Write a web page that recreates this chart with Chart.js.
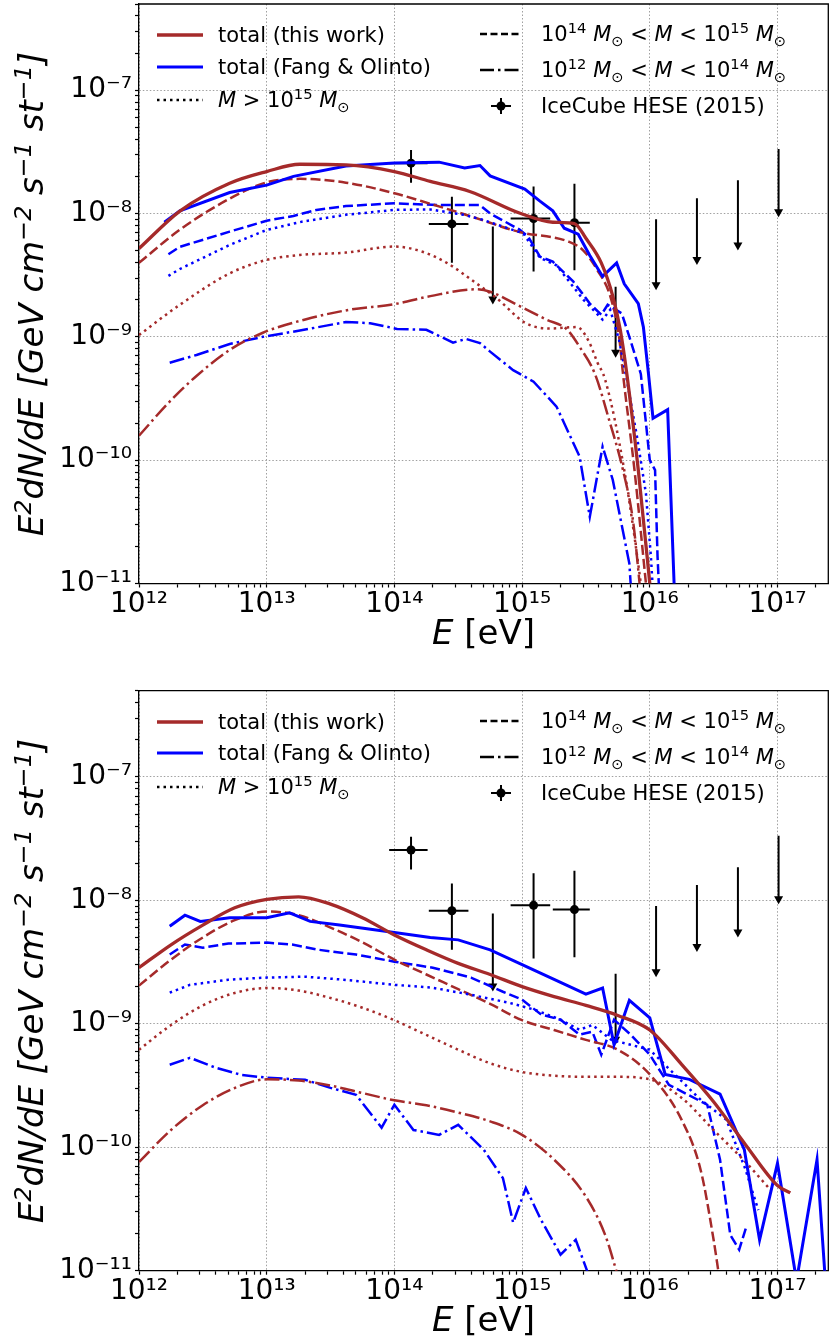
<!DOCTYPE html>
<html>
<head>
<meta charset="utf-8">
<script src="https://cdn.jsdelivr.net/npm/chart.js@4.4.1/dist/chart.umd.min.js"></script>
<style>
  body { margin:0; background:#fff; }
  #wrap { position:relative; width:829px; height:1342px; overflow:hidden; font-family:'DejaVu Sans', sans-serif; }
  .cv { position:absolute; left:0; }
  .lg { position:absolute; font-size:21px; line-height:24px; white-space:nowrap; color:#000; }
  .lg sup, .lg sub { font-size:0.7em; line-height:0; }
  .xl { position:absolute; left:139px; width:689px; text-align:center; font-size:34px; line-height:40px; color:#000; }
  .yl { position:absolute; width:580px; height:40px; line-height:40px; text-align:center; font-size:34px; font-style:italic; color:#000; transform:rotate(-90deg); transform-origin:50% 50%; white-space:nowrap; }
  .yl sup { font-size:0.7em; line-height:0; }
  svg.sm { position:absolute; overflow:visible; }
</style>
</head>
<body>
<div id="wrap">
  <canvas id="c1" class="cv" width="829" height="660" style="top:0;width:829px;height:660px"></canvas>
  <canvas id="c2" class="cv" width="829" height="682" style="top:660px;width:829px;height:682px"></canvas>
</div>
<script>
// ---------------- DATA (E in eV, E^2 dN/dE in GeV cm^-2 s^-1 sr^-1) ----------------
// IceCube HESE (2015) points
const heseE    = [1.35e14, 2.82e14, 1.23e15, 2.57e15];
const heseElo  = [9.1e13, 1.86e14, 8.13e14, 1.74e15];
const heseEhi  = [1.82e14, 3.8e14, 1.66e15, 3.39e15];
const heseF    = [2.56e-8, 8.24e-9, 9.12e-9, 8.43e-9];
const heseFlo  = [1.78e-8, 3.98e-9, 3.39e-9, 3.47e-9];
const heseFhi  = [3.28e-8, 1.37e-8, 1.66e-8, 1.74e-8];
// IceCube HESE (2015) upper limits
const ulE      = [5.9e14, 5.4e15, 1.12e16, 2.34e16, 4.9e16, 1.02e17];
const ulF      = [7.85e-9, 2.55e-9, 9.0e-9, 1.33e-8, 1.86e-8, 3.34e-8];
const ulTip    = [1.86e-9, 6.9e-10, 2.43e-9, 3.9e-9, 5.1e-9, 9.5e-9];

// ---- Top panel ----
const twTotalE_A = [1e12, 2.09e12, 5.13e12, 1e13, 1.82e13, 4.17e13, 1e14, 1.91e14, 3.89e14, 9.77e14, 1.74e15, 2.57e15, 3.16e15, 4.17e15, 5.13e15, 5.89e15, 6.61e15, 8.13e15, 1e16, 1.12e16];
const twTotalF_A = [5.2e-9, 1.047e-8, 1.76e-8, 2.19e-8, 2.51e-8, 2.48e-8, 2.19e-8, 1.82e-8, 1.51e-8, 1.0e-8, 8.5e-9, 8.3e-9, 6.3e-9, 3.98e-9, 2.14e-9, 1.12e-9, 5.0e-10, 8.3e-11, 1.0e-11, 3e-12];
const twDashE_A = [1e12, 2.09e12, 5.13e12, 1e13, 1.82e13, 4.17e13, 1e14, 1.91e14, 3.89e14, 9.55e14, 2.34e15, 3.02e15, 3.89e15, 4.9e15, 5.75e15, 6.17e15, 7.59e15, 9.33e15, 1.05e16];
const twDashF_A = [3.98e-9, 7.4e-9, 1.32e-8, 1.79e-8, 1.91e-8, 1.78e-8, 1.46e-8, 1.2e-8, 9.55e-9, 7.08e-9, 5.89e-9, 5.01e-9, 3.47e-9, 2.14e-9, 1.0e-9, 5.0e-10, 8.3e-11, 1.0e-11, 3e-12];
const twDotE_A = [1e12, 2.09e12, 5.13e12, 1e13, 1.82e13, 4.17e13, 1e14, 1.66e14, 2.57e14, 4.37e14, 6.31e14, 1.07e15, 1.66e15, 2.69e15, 3.31e15, 3.89e15, 4.47e15, 6.31e15, 8.51e15, 9.8e15];
const twDotF_A = [1.035e-9, 1.82e-9, 3.27e-9, 4.21e-9, 4.61e-9, 4.82e-9, 5.4e-9, 4.9e-9, 3.98e-9, 2.72e-9, 2.06e-9, 1.29e-9, 1.17e-9, 1.2e-9, 9.3e-10, 6.2e-10, 4.5e-10, 8.3e-11, 1.0e-11, 3e-12];
const twDDE_A = [1e12, 1.74e12, 2.82e12, 5.13e12, 9.33e12, 2.04e13, 4.47e13, 1e14, 1.91e14, 4.37e14, 5.62e14, 9.12e14, 1.55e15, 2.24e15, 2.82e15, 3.72e15, 4.79e15, 6.17e15, 7.41e15, 8.32e15, 9.3e15];
const twDDF_A = [1.58e-10, 2.99e-10, 4.82e-10, 7.83e-10, 1.08e-9, 1.39e-9, 1.66e-9, 1.84e-9, 2.14e-9, 2.43e-9, 2.32e-9, 1.82e-9, 1.38e-9, 1.15e-9, 8.3e-10, 5.0e-10, 2.14e-10, 8.3e-11, 3.16e-11, 1.0e-11, 3e-12];

const foTotalE_A = [1.58e12, 2.09e12, 5.13e12, 1e13, 1.62e13, 4.17e13, 1e14, 2.24e14, 3.55e14, 4.68e14, 5.62e14, 1.05e15, 1.38e15, 1.74e15, 2.14e15, 2.75e15, 3.39e15, 4.27e15, 5.5e15, 6.31e15, 8.13e15, 8.91e15, 9.77e15, 1.06e16, 1.38e16, 1.55e16, 1.62e16];
const foTotalF_A = [8.5e-9, 1.05e-8, 1.48e-8, 1.70e-8, 2.0e-8, 2.43e-8, 2.57e-8, 2.61e-8, 2.34e-8, 2.45e-8, 2.02e-8, 1.58e-8, 1.26e-8, 1.05e-8, 7.6e-9, 6.8e-9, 4.57e-9, 3.09e-9, 3.98e-9, 2.69e-9, 1.86e-9, 1.2e-9, 5.0e-10, 2.19e-10, 2.57e-10, 1.0e-11, 3e-12];
const foDashE_A = [1.70e12, 2.09e12, 5.13e12, 1e13, 1.62e13, 2.45e13, 4.17e13, 1e14, 2.24e14, 4.68e14, 5.62e14, 9.55e14, 1.12e15, 1.38e15, 1.74e15, 2.51e15, 3.02e15, 3.39e15, 4.17e15, 4.68e15, 6.03e15, 6.92e15, 8.51e15, 1e16, 1.10e16, 1.15e16, 1.20e16];
const foDashF_A = [4.68e-9, 5.37e-9, 7.13e-9, 8.75e-9, 9.55e-9, 1.07e-8, 1.15e-8, 1.21e-8, 1.17e-8, 1.17e-8, 1.0e-8, 7.41e-9, 6.46e-9, 4.47e-9, 4.07e-9, 2.82e-9, 2.19e-9, 1.86e-9, 1.51e-9, 1.82e-9, 1.55e-9, 1.0e-9, 5.0e-10, 1.0e-10, 8.3e-11, 1.66e-11, 6.3e-12];
const foDotE_A = [1.70e12, 2.09e12, 5.13e12, 1e13, 1.91e13, 4.17e13, 1e14, 1.91e14, 3.47e14, 4.9e14, 7.08e14, 1.02e15, 1.38e15, 1.86e15, 3.02e15, 4.27e15, 4.9e15, 5.75e15, 6.61e15, 7.94e15, 9.33e15, 1.02e16, 1.05e16, 1.07e16];
const foDotF_A = [3.12e-9, 3.55e-9, 5.56e-9, 7.36e-9, 8.61e-9, 9.77e-9, 1.07e-8, 1.08e-8, 9.77e-9, 8.91e-9, 7.83e-9, 6.92e-9, 4.37e-9, 3.8e-9, 2.0e-9, 1.38e-9, 1.66e-9, 9.44e-10, 4.47e-10, 1.55e-10, 5.37e-11, 1.66e-11, 1.0e-11, 6e-12];
const foDDE_A = [1.74e12, 2.82e12, 5.13e12, 9.33e12, 1.91e13, 4.17e13, 6.46e13, 1.05e14, 1.78e14, 2.88e14, 3.63e14, 4.68e14, 5.62e14, 8.51e14, 1.23e15, 1.86e15, 2.82e15, 3.39e15, 4.27e15, 5.13e15, 6.92e15, 7.08e15, 7.2e15];
const foDDF_A = [6.17e-10, 7.13e-10, 8.75e-10, 1.0e-9, 1.135e-9, 1.32e-9, 1.29e-9, 1.16e-9, 1.14e-9, 8.97e-10, 9.62e-10, 8.91e-10, 7.59e-10, 5.37e-10, 4.33e-10, 2.72e-10, 1.07e-10, 3.47e-11, 1.29e-10, 6.92e-11, 1.45e-11, 1.0e-11, 6e-12];

// ---- Bottom panel ----
const gridE_B = [1e12, 1.78e12, 3.16e12, 5.62e12, 1e13, 1.78e13, 3.16e13, 5.62e13, 1e14, 1.78e14, 3.16e14, 5.62e14, 1e15, 1.78e15, 3.16e15, 5.62e15, 1e16, 1.78e16, 3.16e16, 5.62e16, 1e17, 1.26e17];
const twTotalF_B = [2.85e-9, 4.37e-9, 6.31e-9, 8.71e-9, 1.02e-8, 1.07e-8, 9.33e-9, 7.24e-9, 5.25e-9, 3.98e-9, 3.09e-9, 2.51e-9, 2.0e-9, 1.66e-9, 1.41e-9, 1.17e-9, 8.91e-10, 4.68e-10, 2.34e-10, 1.05e-10, 4.9e-11, 4.27e-11];
const twDashE_B = [1e12, 1.78e12, 3.16e12, 5.62e12, 1e13, 1.78e13, 3.16e13, 5.62e13, 1e14, 1.78e14, 3.16e14, 5.62e14, 1e15, 1.78e15, 3.16e15, 5.62e15, 1e16, 1.78e16, 2.51e16, 3.16e16, 3.55e16];
const twDashF_B = [2.04e-9, 3.31e-9, 5.01e-9, 6.92e-9, 8.13e-9, 7.59e-9, 6.03e-9, 4.57e-9, 3.31e-9, 2.51e-9, 1.91e-9, 1.45e-9, 1.07e-9, 8.91e-10, 7.41e-10, 6.17e-10, 3.89e-10, 1.66e-10, 6.46e-11, 1.78e-11, 8e-12];
const twDotE_B = [1e12, 1.78e12, 3.16e12, 5.62e12, 1e13, 1.78e13, 3.16e13, 5.62e13, 1e14, 1.78e14, 3.16e14, 5.62e14, 1e15, 1.78e15, 3.16e15, 5.62e15, 1e16, 1.78e16, 3.16e16, 5.62e16, 8.9e16];
const twDotF_B = [6.17e-10, 9.77e-10, 1.41e-9, 1.78e-9, 1.95e-9, 1.86e-9, 1.62e-9, 1.35e-9, 1.07e-9, 8.13e-10, 6.17e-10, 4.79e-10, 4.07e-10, 3.8e-10, 3.72e-10, 3.72e-10, 3.55e-10, 2.51e-10, 1.38e-10, 7.59e-11, 4.47e-11];
const twDDE_B = [1e12, 1.78e12, 3.16e12, 5.62e12, 1e13, 1.78e13, 3.16e13, 5.62e13, 1e14, 1.78e14, 3.16e14, 5.62e14, 1e15, 1.78e15, 3.16e15, 4.47e15, 5.62e15];
const twDDF_B = [7.59e-11, 1.38e-10, 2.19e-10, 3.02e-10, 3.55e-10, 3.47e-10, 3.16e-10, 2.75e-10, 2.4e-10, 2.19e-10, 1.91e-10, 1.62e-10, 1.26e-10, 7.94e-11, 3.98e-11, 1.95e-11, 9.1e-12];

const foTotalE_B = [1.74e12, 2.29e12, 3.02e12, 5.13e12, 1e13, 1.51e13, 2.19e13, 3.72e13, 1e14, 1.91e14, 3.16e14, 5.62e14, 1e15, 1.78e15, 3.16e15, 4.27e15, 5.25e15, 6.92e15, 1e16, 1.32e16, 2.04e16, 3.55e16, 5.5e16, 7.24e16, 1e17, 1.41e17, 2.04e17, 2.4e17];
const foTotalF_B = [6.17e-9, 7.59e-9, 6.76e-9, 7.24e-9, 7.24e-9, 7.94e-9, 6.76e-9, 6.31e-9, 5.5e-9, 5.01e-9, 4.79e-9, 3.98e-9, 3.02e-9, 2.29e-9, 1.74e-9, 1.95e-9, 6.76e-10, 1.55e-9, 1.12e-9, 3.89e-10, 3.55e-10, 2.69e-10, 9.55e-11, 1.78e-11, 7.41e-11, 8.3e-12, 7.94e-11, 6.9e-12];
const foDashE_B = [1.74e12, 2.29e12, 3.16e12, 5.01e12, 1e13, 1.58e13, 2.51e13, 5.01e13, 1e14, 2.0e14, 3.98e14, 7.08e14, 1e15, 1.41e15, 2.0e15, 2.82e15, 3.55e15, 4.17e15, 5.25e15, 7.08e15, 1e16, 1.41e16, 2.0e16, 2.82e16, 3.55e16, 4.27e16, 5.01e16, 5.75e16];
const foDashF_B = [3.64e-9, 4.39e-9, 4.14e-9, 4.47e-9, 4.55e-9, 4.39e-9, 3.99e-9, 3.64e-9, 3.19e-9, 2.85e-9, 2.37e-9, 1.82e-9, 1.57e-9, 1.19e-9, 1.08e-9, 8.17e-10, 8.63e-10, 5.62e-10, 1.08e-9, 8.17e-10, 5.62e-10, 3.21e-10, 2.66e-10, 2.21e-10, 7.94e-11, 1.95e-11, 1.48e-11, 2.34e-11];
const foDotE_B = [1.74e12, 2.51e12, 5.01e12, 1e13, 2.0e13, 3.98e13, 1e14, 2.0e14, 3.98e14, 7.94e14, 1.26e15, 2.0e15, 2.82e15, 3.55e15, 5.01e15, 7.08e15, 1e16, 1.58e16, 2.51e16, 3.98e16, 5.62e16, 7.08e16];
const foDotF_B = [1.79e-9, 2.07e-9, 2.28e-9, 2.37e-9, 2.41e-9, 2.28e-9, 2.07e-9, 1.96e-9, 1.72e-9, 1.48e-9, 1.30e-9, 1.08e-9, 8.95e-10, 9.8e-10, 7.41e-10, 6.76e-10, 6.17e-10, 3.86e-10, 2.42e-10, 1.67e-10, 6.6e-11, 3.09e-11];
const foDDE_B = [1.74e12, 2.51e12, 3.98e12, 6.31e12, 1e13, 2.0e13, 3.16e13, 5.01e13, 7.94e13, 1e14, 1.41e14, 2.24e14, 3.16e14, 5.01e14, 7.08e14, 8.51e14, 1.07e15, 1.41e15, 2.0e15, 2.63e15, 3.31e15];
const foDDF_B = [4.66e-10, 5.31e-10, 4.41e-10, 3.86e-10, 3.66e-10, 3.52e-10, 3.03e-10, 2.66e-10, 1.44e-10, 2.21e-10, 1.38e-10, 1.26e-10, 1.52e-10, 9.55e-11, 5.62e-11, 2.45e-11, 4.68e-11, 2.57e-11, 1.35e-11, 1.78e-11, 9.3e-12];

// axis ticks
const xDecades = [12, 13, 14, 15, 16, 17];
const yDecades = [-11, -10, -9, -8, -7];

// ---------------- STYLE ----------------
const BROWN = '#a52a2a', BLUE = '#0000ff';
const DASH = [10, 4], DOT = [2.5, 4], DASHDOT = [15, 4, 2.5, 4];
Chart.defaults.font.family = "'DejaVu Sans', sans-serif";
Chart.defaults.color = '#000';

function pts(E, F) { return E.map((e, i) => ({ x: e, y: F[i] })); }
function line(E, F, color, width, dash, smooth) {
  return { data: pts(E, F), borderColor: color, borderWidth: width, borderDash: dash,
    pointRadius: 0, pointHoverRadius: 0, fill: false, showLine: true,
    tension: 0, cubicInterpolationMode: smooth ? 'monotone' : 'default', borderCapStyle: 'butt', borderJoinStyle: 'miter' };
}
const SUP = { '0':'⁰','1':'¹','2':'²','3':'³','4':'⁴','5':'⁵','6':'⁶','7':'⁷','8':'⁸','9':'⁹','-':'⁻' };
const sup = s => String(s).split('').map(c => SUP[c]).join('');
const isMajor = v => Math.abs(Math.log10(v) - Math.round(Math.log10(v))) < 1e-6;

function makeTicks(decades, max) {
  const t = [];
  decades.forEach(d => { for (let m = 1; m <= 9; m++) { const v = m * Math.pow(10, d); if (v <= max * 1.0000001) t.push({ value: v }); } });
  return t;
}

const extras = {
  id: 'extras',
  beforeDatasetsDraw(chart) {
    const { ctx, scales: { x, y }, chartArea: a } = chart;
    ctx.save();
    ctx.beginPath(); ctx.rect(a.left, a.top, a.right - a.left, a.bottom - a.top); ctx.clip();
    ctx.strokeStyle = '#000'; ctx.fillStyle = '#000'; ctx.lineWidth = 2;
    heseE.forEach((e, i) => {
      const px = x.getPixelForValue(e), py = y.getPixelForValue(heseF[i]);
      ctx.beginPath();
      ctx.moveTo(px, y.getPixelForValue(heseFhi[i])); ctx.lineTo(px, y.getPixelForValue(heseFlo[i]));
      ctx.moveTo(x.getPixelForValue(heseElo[i]), py); ctx.lineTo(x.getPixelForValue(heseEhi[i]), py);
      ctx.stroke();
    });
    ulE.forEach((e, i) => {
      const px = x.getPixelForValue(e), y0 = y.getPixelForValue(ulF[i]), y1 = y.getPixelForValue(ulTip[i]);
      ctx.beginPath(); ctx.moveTo(px, y0); ctx.lineTo(px, y1 - 4); ctx.stroke();
      ctx.beginPath(); ctx.moveTo(px - 4.5, y1 - 7); ctx.lineTo(px + 4.5, y1 - 7); ctx.lineTo(px, y1 + 1); ctx.closePath(); ctx.fill();
    });
    ctx.restore();
  },
  afterDraw(chart) {
    const { ctx, chartArea: a } = chart;
    ctx.save(); ctx.strokeStyle = '#000'; ctx.lineWidth = 1.3;
    ctx.beginPath(); ctx.moveTo(a.left, a.top); ctx.lineTo(a.right, a.top); ctx.lineTo(a.right, a.bottom); ctx.stroke();
    ctx.restore();
  }
};

function makeChart(id, padTop, xHeight, S) {
  const datasets = [
    line(S.twTotE, S.twTotF, BROWN, 3.3, [], true),
    line(S.foTotE, S.foTotF, BLUE, 3, [], false),
    line(S.twDotE, S.twDotF, BROWN, 2.5, DOT, true),
    line(S.foDotE, S.foDotF, BLUE, 2.5, DOT, false),
    line(S.twDashE, S.twDashF, BROWN, 2.5, DASH, true),
    line(S.foDashE, S.foDashF, BLUE, 2.5, DASH, false),
    line(S.twDDE, S.twDDF, BROWN, 2.5, DASHDOT, true),
    line(S.foDDE, S.foDDF, BLUE, 2.5, DASHDOT, false),
    { data: pts(heseE, heseF), showLine: false, pointRadius: 4.5, pointBackgroundColor: '#000', pointBorderColor: '#000', pointBorderWidth: 0 }
  ];
  const gridColor = c => (c.tick && isMajor(c.tick.value)) ? 'rgba(150,150,150,0.9)' : 'rgba(0,0,0,0)';
  const tickCb = v => isMajor(v) ? '10' + sup(Math.round(Math.log10(v))) : '';
  return new Chart(document.getElementById(id), {
    type: 'line',
    data: { datasets },
    options: {
      responsive: false, animation: false, events: [],
      layout: { autoPadding: false, padding: { top: padTop, right: 0.7, left: 0, bottom: 0 } },
      plugins: { legend: { display: false }, tooltip: { enabled: false } },
      scales: {
        x: {
          type: 'logarithmic', position: 'bottom', min: 1e12, max: 2.5e17,
          afterBuildTicks: s => { s.ticks = makeTicks(xDecades, 2.5e17); },
          afterFit: s => { s.height = xHeight; s.paddingLeft = 0; s.paddingRight = 0; },
          ticks: { autoSkip: false, maxRotation: 0, minRotation: 0, padding: 0, color: '#000', font: { size: 28 }, callback: tickCb },
          grid: { color: gridColor, lineWidth: 1, tickColor: '#000', tickLength: 4, tickWidth: 1.2, drawTicks: true },
          border: { display: true, color: '#000', width: 1.3, dash: [1.5, 2] }
        },
        y: {
          type: 'logarithmic', position: 'left', min: 1e-11, max: 5e-7,
          afterBuildTicks: s => { s.ticks = makeTicks(yDecades, 5e-7); },
          afterFit: s => { s.width = 139; s.paddingTop = 0; s.paddingBottom = 0; },
          ticks: { autoSkip: false, padding: 3, color: '#000', font: { size: 28 }, callback: tickCb },
          grid: { color: gridColor, lineWidth: 1, tickColor: '#000', tickLength: 4, tickWidth: 1.2, drawTicks: true },
          border: { display: true, color: '#000', width: 1.3, dash: [1.5, 2] }
        }
      }
    },
    plugins: [extras]
  });
}

makeChart('c1', 4, 76.5, {
  twTotE: twTotalE_A, twTotF: twTotalF_A, foTotE: foTotalE_A, foTotF: foTotalF_A,
  twDotE: twDotE_A, twDotF: twDotF_A, foDotE: foDotE_A, foDotF: foDotF_A,
  twDashE: twDashE_A, twDashF: twDashF_A, foDashE: foDashE_A, foDashF: foDashF_A,
  twDDE: twDDE_A, twDDF: twDDF_A, foDDE: foDDE_A, foDDF: foDDF_A
});
makeChart('c2', 30.7, 71.3, {
  twTotE: gridE_B, twTotF: twTotalF_B, foTotE: foTotalE_B, foTotF: foTotalF_B,
  twDotE: twDotE_B, twDotF: twDotF_B, foDotE: foDotE_B, foDotF: foDotF_B,
  twDashE: twDashE_B, twDashF: twDashF_B, foDashE: foDashE_B, foDashF: foDashF_B,
  twDDE: twDDE_B, twDDF: twDDF_B, foDDE: foDDE_B, foDDF: foDDF_B
});

// ---------------- legends & axis titles (HTML text) ----------------
const wrap = document.getElementById('wrap');
const MSUN = '<i>M</i><sub>⊙</sub>';
function add(html, cls, style) { const d = document.createElement('div'); d.className = cls; d.innerHTML = html; Object.assign(d.style, style); wrap.appendChild(d); return d; }
function sample(x, y, w, kind) {
  let inner = '';
  if (kind === 'brown') inner = `<line x1="0" y1="0" x2="${w}" y2="0" stroke="${BROWN}" stroke-width="3.3"/>`;
  else if (kind === 'blue') inner = `<line x1="0" y1="0" x2="${w}" y2="0" stroke="${BLUE}" stroke-width="3"/>`;
  else if (kind === 'dot') inner = `<line x1="0" y1="0" x2="${w}" y2="0" stroke="#000" stroke-width="2.5" stroke-dasharray="2.5 4"/>`;
  else if (kind === 'dash') inner = `<line x1="0" y1="0" x2="${w}" y2="0" stroke="#000" stroke-width="2.5" stroke-dasharray="7 3.5"/>`;
  else if (kind === 'dd') inner = `<line x1="0" y1="0" x2="${w}" y2="0" stroke="#000" stroke-width="2.5" stroke-dasharray="14 4 2.5 4"/>`;
  else if (kind === 'err') inner = `<line x1="${w/2-10}" y1="0" x2="${w/2+10}" y2="0" stroke="#000" stroke-width="2"/><line x1="${w/2}" y1="-8" x2="${w/2}" y2="8" stroke="#000" stroke-width="2"/><circle cx="${w/2}" cy="0" r="4.5" fill="#000"/>`;
  const s = document.createElementNS('http://www.w3.org/2000/svg', 'svg');
  s.setAttribute('class', 'sm'); s.setAttribute('width', w); s.setAttribute('height', 2);
  s.style.left = x + 'px'; s.style.top = (y - 1) + 'px';
  s.innerHTML = `<g transform="translate(0,1)">${inner}</g>`;
  wrap.appendChild(s);
}
function legend(off) {
  const rows1 = [[35, 'brown', 'total (this work)'], [66.7, 'blue', 'total (Fang &amp; Olinto)'], [100, 'dot', `<i>M</i> &gt; 10<sup>15</sup> ${MSUN}`]];
  rows1.forEach(([y, k, t]) => { sample(157, y + off, 46, k); add(t, 'lg', { left: '218px', top: (y + off - 12) + 'px' }); });
  const rows2 = [[34, 'dash', `10<sup>14</sup> ${MSUN} &lt; <i>M</i> &lt; 10<sup>15</sup> ${MSUN}`], [70, 'dd', `10<sup>12</sup> ${MSUN} &lt; <i>M</i> &lt; 10<sup>14</sup> ${MSUN}`], [106, 'err', 'IceCube HESE (2015)']];
  rows2.forEach(([y, k, t]) => { sample(480, y + off, 42, k); add(t, 'lg', { left: '541px', top: (y + off - 12) + 'px' }); });
  add('<i>E</i> [eV]', 'xl', { top: (612 + off) + 'px' });
  add('E<sup>2</sup>dN/dE [GeV cm<sup>−2</sup> s<sup>−1</sup> st<sup>−1</sup>]', 'yl', { left: (31 - 290) + 'px', top: (294 + off - 20) + 'px' });
}
legend(0);
legend(686.7);
</script>
</body>
</html>
